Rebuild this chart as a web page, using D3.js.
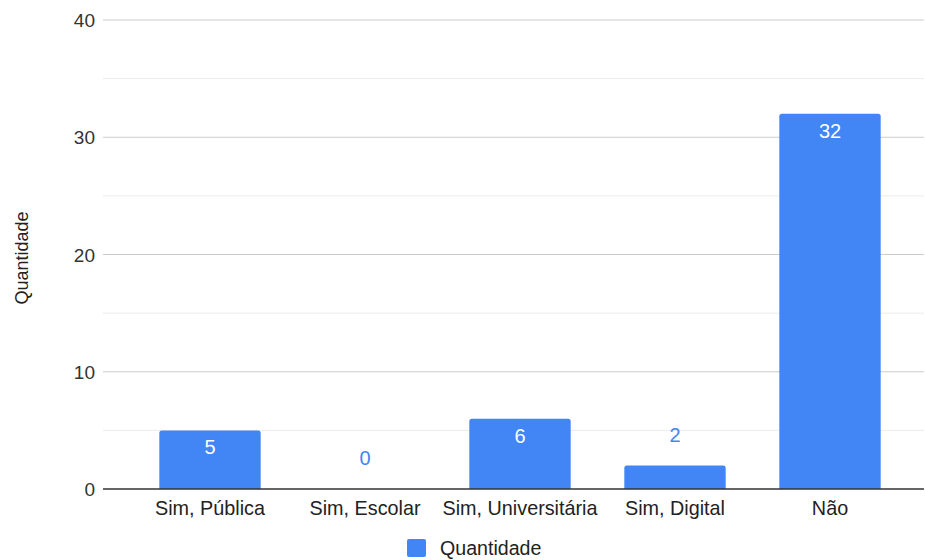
<!DOCTYPE html>
<html>
<head>
<meta charset="utf-8">
<script src="https://cdn.jsdelivr.net/npm/d3@7"></script>
<style>
  body { margin: 0; background: #fff; }
  svg { display: block; font-family: Arial, "Liberation Sans", sans-serif; }
</style>
</head>
<body>
<svg id="chart" width="925" height="560"></svg>
<script>
// Chart data
const categories = ["Sim, Pública", "Sim, Escolar", "Sim, Universitária", "Sim, Digital", "Não"];
const values = [5, 0, 6, 2, 32];
const yTicks = [0, 10, 20, 30, 40];
const yMinorTicks = [5, 15, 25, 35];
const seriesName = "Quantidade";
const axisTitle = "Quantidade";

const svg = d3.select("#chart");
const color = "#4285f4";

const x = d3.scaleBand()
  .domain(categories)
  .range([132.5, 907.5])
  .paddingInner(0.346)
  .paddingOuter(0.173);

const y = d3.scaleLinear().domain([0, 40]).range([489, 20]);

const plotLeft = 103, plotRight = 924;

// Minor gridlines
svg.append("g").selectAll("line").data(yMinorTicks).join("line")
  .attr("x1", plotLeft).attr("x2", plotRight)
  .attr("y1", d => y(d)).attr("y2", d => y(d))
  .attr("stroke", "#ebebeb").attr("stroke-width", 1);

// Major gridlines
svg.append("g").selectAll("line").data(yTicks.filter(d => d !== 0)).join("line")
  .attr("x1", plotLeft).attr("x2", plotRight)
  .attr("y1", d => y(d)).attr("y2", d => y(d))
  .attr("stroke", "#cccccc").attr("stroke-width", 1);

// Y axis tick labels
const yAxis = d3.axisLeft(y).tickValues(yTicks).tickSize(0).tickPadding(0);
const gy = svg.append("g").attr("transform", `translate(95,0)`).call(yAxis);
gy.select(".domain").remove();
gy.selectAll("text")
  .attr("font-size", 19).attr("fill", "#333")
  .attr("font-family", "Arial, 'Liberation Sans', sans-serif")
  .attr("dy", "0.35em");

// Bars with slightly rounded top corners
function barPath(x0, w, yTop, yBase, r) {
  const h = yBase - yTop;
  if (h <= 0) return "";
  const rr = Math.min(r, h, w / 2);
  return `M${x0},${yBase}V${yTop + rr}Q${x0},${yTop} ${x0 + rr},${yTop}` +
         `H${x0 + w - rr}Q${x0 + w},${yTop} ${x0 + w},${yTop + rr}V${yBase}Z`;
}
svg.append("g").selectAll("path").data(values).join("path")
  .attr("d", (d, i) => barPath(x(categories[i]), x.bandwidth(), y(d), y(0), 2.5))
  .attr("fill", color);

// Baseline
svg.append("line")
  .attr("x1", plotLeft).attr("x2", plotRight)
  .attr("y1", y(0)).attr("y2", y(0))
  .attr("stroke", "#333").attr("stroke-width", 1.3);

// Value labels: inside for tall bars, above for short ones
svg.append("g").selectAll("text").data(values).join("text")
  .attr("x", (d, i) => x(categories[i]) + x.bandwidth() / 2)
  .attr("y", d => (y(0) - y(d) > 40) ? y(d) + 24 : y(d) - 24)
  .attr("text-anchor", "middle")
  .attr("font-size", 20)
  .attr("fill", d => (y(0) - y(d) > 40) ? "#ffffff" : color)
  .text(d => d);

// Category labels
const xAxis = d3.axisBottom(x).tickSize(0).tickPadding(0);
const gx = svg.append("g").attr("transform", `translate(0,${y(0)})`).call(xAxis);
gx.select(".domain").remove();
gx.selectAll("text")
  .attr("font-size", 19.8).attr("fill", "#222")
  .attr("font-family", "Arial, 'Liberation Sans', sans-serif")
  .attr("dy", null).attr("y", 26);

// Y axis title
svg.append("text")
  .attr("transform", "translate(28,258) rotate(-90)")
  .attr("text-anchor", "middle")
  .attr("font-size", 18).attr("fill", "#222")
  .text(axisTitle);

// Legend
const legend = svg.append("g").attr("transform", "translate(407,539)");
legend.append("rect").attr("width", 19).attr("height", 18).attr("rx", 2).attr("fill", color);
legend.append("text").attr("x", 33).attr("y", 15.5)
  .attr("font-size", 19.6).attr("fill", "#222").text(seriesName);
</script>
</body>
</html>
